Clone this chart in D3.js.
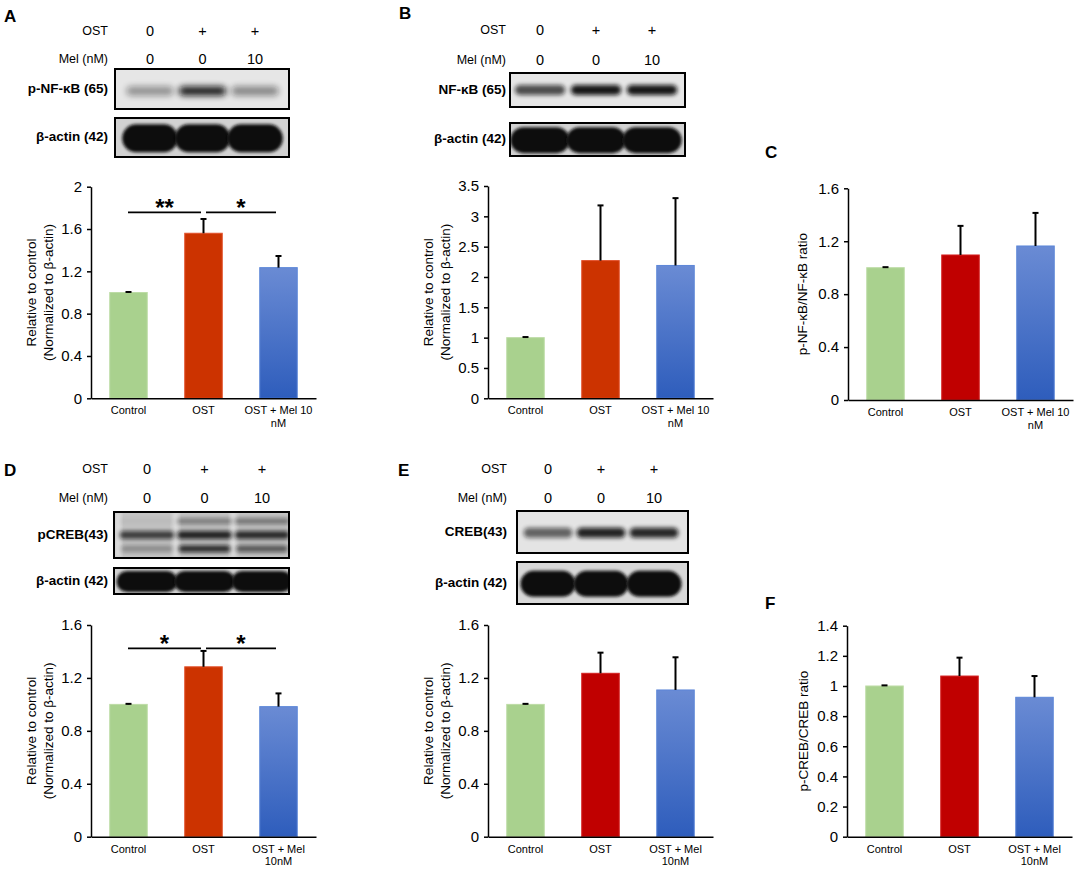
<!DOCTYPE html>
<html>
<head>
<meta charset="utf-8">
<script src="https://cdn.jsdelivr.net/npm/d3@7/dist/d3.min.js"></script>
<style>
  body { margin: 0; background: #fff; }
  svg { display: block; font-family: "Liberation Sans", Arial, sans-serif; }
</style>
</head>
<body>
<svg id="fig" width="1084" height="876"></svg>
<script>
// groups and labels
const groups = ["Control", "OST", "OST + Mel"];
const labelsTop = ["Control", "OST", "OST + Mel 10|nM"];
const labelsBottom = ["Control", "OST", "OST + Mel|10nM"];
const ostRow = ["0", "+", "+"];
const melRow = ["0", "0", "10"];

// bar values (mean) and error (SEM)
const pNFkB = [1.0, 1.56, 1.235];
const pNFkBErr = [0.005, 0.135, 0.11];
const NFkB = [1.0, 2.27, 2.19];
const NFkBErr = [0.01, 0.91, 1.11];
const ratioNFkB = [1.0, 1.096, 1.164];
const ratioNFkBErr = [0.004, 0.22, 0.25];
const pCREB = [1.0, 1.284, 0.983];
const pCREBErr = [0.004, 0.12, 0.1];
const CREB = [1.0, 1.235, 1.109];
const CREBErr = [0.004, 0.156, 0.247];
const ratioCREB = [1.0, 1.066, 0.925];
const ratioCREBErr = [0.004, 0.122, 0.141];

// axis ticks
const ticks2 = [0, 0.4, 0.8, 1.2, 1.6, 2];
const ticks35 = [0, 0.5, 1, 1.5, 2, 2.5, 3, 3.5];
const ticks16 = [0, 0.4, 0.8, 1.2, 1.6];
const ticks14 = [0, 0.2, 0.4, 0.6, 0.8, 1, 1.2, 1.4];

// significance marks
const sigA = [{ a: 0, b: 1, mark: "**" }, { a: 1, b: 2, mark: "*" }];
const sigD = [{ a: 0, b: 1, mark: "*" }, { a: 1, b: 2, mark: "*" }];

// western blot band intensities per lane (0 = none, 1 = saturated)
const pNFkBBlot = [0.4, 0.95, 0.45];
const NFkBBlot = [0.7, 0.95, 0.95];
const CREBBlot = [0.6, 0.9, 0.88];
const pCREBUpper = [0.05, 0.4, 0.45];
const pCREBMiddle = [0.75, 0.9, 0.85];
const pCREBLower = [0.3, 0.85, 0.6];
const actinBlot = [1, 1, 1];

const svg = d3.select("#fig");
const defs = svg.append("defs");

// soft edges for blot bands
[["blur1", 1.4], ["blur2", 2.2], ["blur3", 3]].forEach(([id, s]) => {
  defs.append("filter").attr("id", id)
    .attr("x", "-30%").attr("y", "-80%").attr("width", "160%").attr("height", "260%")
    .append("feGaussianBlur").attr("stdDeviation", s);
});

// blue bar gradient
const blueGrad = defs.append("linearGradient").attr("id", "blueGrad")
  .attr("x1", 0).attr("x2", 0).attr("y1", 0).attr("y2", 1);
blueGrad.append("stop").attr("offset", "0%").attr("stop-color", "#6a8bd4");
blueGrad.append("stop").attr("offset", "100%").attr("stop-color", "#2e5dbc");

const GREEN = "#a9d18e";
const ORANGE_RED = "#cc3300";
const DARK_RED = "#c00000";

// panel letters
const letters = [["A", 4, 22], ["B", 399, 19], ["C", 765, 158], ["D", 4, 476], ["E", 398, 476], ["F", 765, 609]];
svg.selectAll(".letter").data(letters).enter().append("text")
  .attr("class", "letter")
  .attr("x", d => d[1])
  .attr("y", d => d[2])
  .attr("font-size", 17).attr("font-weight", "bold")
  .text(d => d[0]);

// ---------- blot drawing ----------
function drawBlot(cfg) {
  const g = svg.append("g");
  const lane = d3.scalePoint().domain(groups).range(cfg.lanes);
  const step = lane.step();

  // header rows
  [[cfg.ostY, "OST", ostRow], [cfg.melY, "Mel (nM)", melRow]].forEach(([y, name, vals]) => {
    g.append("text").attr("x", cfg.labelRight).attr("y", y)
      .attr("text-anchor", "end").attr("dominant-baseline", "middle")
      .attr("font-size", 12.5).text(name);
    g.selectAll(null).data(vals).enter().append("text")
      .attr("x", (d, i) => lane(groups[i])).attr("y", y)
      .attr("text-anchor", "middle").attr("dominant-baseline", "middle")
      .attr("font-size", 14.5).text(d => d);
  });

  cfg.rows.forEach(row => {
    const h = row.y1 - row.y0;
    const clipId = "clip" + Math.round(cfg.box[0]) + "_" + Math.round(row.y0);
    defs.append("clipPath").attr("id", clipId).append("rect")
      .attr("x", cfg.box[0]).attr("y", row.y0)
      .attr("width", cfg.box[1] - cfg.box[0]).attr("height", h);

    g.append("rect").attr("x", cfg.box[0]).attr("y", row.y0)
      .attr("width", cfg.box[1] - cfg.box[0]).attr("height", h)
      .attr("fill", row.bg);

    const inner = g.append("g").attr("clip-path", `url(#${clipId})`);

    if (row.strips) {
      // lighter gaps between lanes
      const mids = [cfg.box[0] + 4, (lane(groups[0]) + lane(groups[1])) / 2, (lane(groups[1]) + lane(groups[2])) / 2];
      inner.selectAll(null).data(mids).enter().append("rect")
        .attr("x", d => d - 3).attr("y", row.y0).attr("width", 6).attr("height", h)
        .attr("fill", "#ffffff").attr("opacity", 0.45).attr("filter", "url(#blur2)");
    }

    row.bands.forEach(b => {
      inner.selectAll(null).data(b.values).enter().append("rect")
        .attr("x", (d, i) => lane(groups[i]) - b.w * step / 2)
        .attr("width", b.w * step)
        .attr("y", row.y0 + b.frac * h - b.th / 2)
        .attr("height", b.th)
        .attr("rx", b.th / 2).attr("ry", b.th / 2)
        .attr("fill", "#111")
        .attr("opacity", d => d)
        .attr("filter", `url(#${b.blur})`);
    });

    g.append("rect").attr("x", cfg.box[0]).attr("y", row.y0)
      .attr("width", cfg.box[1] - cfg.box[0]).attr("height", h)
      .attr("fill", "none").attr("stroke", "#000").attr("stroke-width", 2);

    g.append("text").attr("x", cfg.labelRight).attr("y", (row.y0 + row.y1) / 2)
      .attr("text-anchor", "end").attr("dominant-baseline", "middle")
      .attr("font-size", 13.5).attr("font-weight", "bold").text(row.label);
  });
}

const actinRow = (y0, y1, th) => ({
  label: "β-actin (42)", y0, y1, bg: "#d2d2d2",
  bands: [{ frac: 0.52, th, w: 1.06, values: actinBlot, blur: "blur1" }]
});

drawBlot({
  lanes: [150, 255], box: [115, 289], labelRight: 108, ostY: 32, melY: 60,
  rows: [
    { label: "p-NF-κB (65)", y0: 69, y1: 109, bg: "#e6e6e6",
      bands: [{ frac: 0.55, th: 9, w: 0.9, values: pNFkBBlot, blur: "blur3" }] },
    actinRow(118, 157, 28)
  ]
});

drawBlot({
  lanes: [540, 652], box: [510, 685], labelRight: 506, ostY: 31, melY: 61,
  rows: [
    { label: "NF-κB (65)", y0: 73, y1: 107, bg: "#e6e6e6",
      bands: [{ frac: 0.5, th: 10, w: 0.9, values: NFkBBlot, blur: "blur2" }] },
    actinRow(123, 156, 26)
  ]
});

drawBlot({
  lanes: [147, 262], box: [114, 289], labelRight: 108, ostY: 470, melY: 499,
  rows: [
    { label: "pCREB(43)", y0: 512, y1: 558, bg: "#c4c4c4", strips: true,
      bands: [
        { frac: 0.2, th: 6, w: 0.95, values: pCREBUpper, blur: "blur2" },
        { frac: 0.5, th: 8, w: 0.95, values: pCREBMiddle, blur: "blur2" },
        { frac: 0.8, th: 7, w: 0.9, values: pCREBLower, blur: "blur2" }
      ] },
    actinRow(568, 594, 21)
  ]
});

drawBlot({
  lanes: [548, 654], box: [517, 688], labelRight: 507, ostY: 470, melY: 499,
  rows: [
    { label: "CREB(43)", y0: 511, y1: 553, bg: "#e4e4e4",
      bands: [{ frac: 0.52, th: 10, w: 0.92, values: CREBBlot, blur: "blur2" }] },
    { label: "β-actin (42)", y0: 562, y1: 604, bg: "#d8d8d8",
      bands: [{ frac: 0.52, th: 26, w: 1.04, values: actinBlot, blur: "blur1" }] }
  ]
});

// ---------- bar charts ----------
function drawBars(cfg) {
  const g = svg.append("g");
  const x = d3.scaleBand().domain(groups).range([cfg.x0, cfg.x0 + 225])
    .paddingInner(0.5).paddingOuter(0.25);
  const y = d3.scaleLinear().domain([0, cfg.max]).range([cfg.yBot, cfg.yTop]);
  const fills = [GREEN, cfg.red, "url(#blueGrad)"];
  const strokes = ["#bddca6", cfg.red === ORANGE_RED ? "#e2502a" : "#d42020", "#5c86d8"];

  // bars
  g.selectAll(".bar").data(cfg.means).enter().append("rect")
    .attr("x", (d, i) => x(groups[i]))
    .attr("width", x.bandwidth())
    .attr("y", d => y(d))
    .attr("height", d => y(0) - y(d))
    .attr("fill", (d, i) => fills[i])
    .attr("stroke", (d, i) => strokes[i])
    .attr("stroke-width", 1);

  // error bars (upper only)
  const err = g.selectAll(".err").data(cfg.means).enter().append("g");
  err.append("line")
    .attr("x1", (d, i) => x(groups[i]) + x.bandwidth() / 2)
    .attr("x2", (d, i) => x(groups[i]) + x.bandwidth() / 2)
    .attr("y1", d => y(d))
    .attr("y2", (d, i) => y(d + cfg.errs[i]))
    .attr("stroke", "#000").attr("stroke-width", 2);
  err.append("line")
    .attr("x1", (d, i) => x(groups[i]) + x.bandwidth() / 2 - 3)
    .attr("x2", (d, i) => x(groups[i]) + x.bandwidth() / 2 + 3)
    .attr("y1", (d, i) => y(d + cfg.errs[i]))
    .attr("y2", (d, i) => y(d + cfg.errs[i]))
    .attr("stroke", "#000").attr("stroke-width", 2);

  // y axis
  const ya = g.append("g").attr("transform", `translate(${cfg.x0},0)`)
    .call(d3.axisLeft(y).tickValues(cfg.ticks).tickSize(4).tickSizeOuter(0).tickPadding(5)
      .tickFormat(d => String(+d.toFixed(1))));
  ya.select(".domain").attr("stroke-width", 1.5);
  ya.selectAll(".tick line").attr("stroke-width", 1.5);
  ya.selectAll(".tick text").attr("font-size", 15).attr("font-family", "inherit").attr("fill", "#000");

  // x axis
  const xa = g.append("g").attr("transform", `translate(0,${cfg.yBot})`)
    .call(d3.axisBottom(x).tickSize(0).tickSizeOuter(0).tickFormat(""));
  xa.select(".domain").attr("stroke-width", 1.5);

  // category labels
  const lab = g.selectAll(".xlab").data(cfg.labels).enter().append("text")
    .attr("text-anchor", "middle").attr("font-size", 11);
  lab.each(function (d, i) {
    d.split("|").forEach((line, k) => {
      d3.select(this).append("tspan")
        .attr("x", x(groups[i]) + x.bandwidth() / 2)
        .attr("y", cfg.yBot + 16 + k * 12.5)
        .text(line);
    });
  });

  // y title
  const title = g.append("text")
    .attr("transform", `translate(${cfg.x0 - cfg.titleOff},${(cfg.yTop + cfg.yBot) / 2}) rotate(-90)`)
    .attr("text-anchor", "middle").attr("font-size", 13.5);
  cfg.title.forEach((line, k) => {
    title.append("tspan").attr("x", 0).attr("dy", k === 0 ? (cfg.title.length === 1 ? 4.5 : -3) : 17).text(line);
  });

  // significance
  if (cfg.sig) {
    const cx = i => x(groups[i]) + x.bandwidth() / 2;
    cfg.sig.forEach(s => {
      const x1 = cx(s.a) + (s.a > 0 ? 2.5 : -0.5);
      const x2 = cx(s.b) - 2.5;
      g.append("line").attr("x1", x1).attr("x2", x2)
        .attr("y1", cfg.sigY).attr("y2", cfg.sigY)
        .attr("stroke", "#000").attr("stroke-width", 1.8);
      g.append("text").attr("x", (x1 + x2) / 2).attr("y", cfg.sigY + 3.5)
        .attr("text-anchor", "middle").attr("font-size", 24).attr("font-weight", "bold")
        .text(s.mark);
    });
  }
}

const twoLineTitle = ["Relative to control", "(Normalized to β-actin)"];

drawBars({ x0: 91, yTop: 186.7, yBot: 398.3, max: 2, ticks: ticks2, means: pNFkB, errs: pNFkBErr,
  labels: labelsTop, red: ORANGE_RED, title: twoLineTitle, titleOff: 52, sig: sigA, sigY: 212.3 });
drawBars({ x0: 488, yTop: 186, yBot: 398.3, max: 3.5, ticks: ticks35, means: NFkB, errs: NFkBErr,
  labels: labelsTop, red: ORANGE_RED, title: twoLineTitle, titleOff: 52 });
drawBars({ x0: 848, yTop: 188.3, yBot: 400, max: 1.6, ticks: ticks16, means: ratioNFkB, errs: ratioNFkBErr,
  labels: labelsTop, red: DARK_RED, title: ["p-NF-κB/NF-κB ratio"], titleOff: 46 });
drawBars({ x0: 91, yTop: 625, yBot: 836.7, max: 1.6, ticks: ticks16, means: pCREB, errs: pCREBErr,
  labels: labelsBottom, red: ORANGE_RED, title: twoLineTitle, titleOff: 52, sig: sigD, sigY: 648.3 });
drawBars({ x0: 488, yTop: 625, yBot: 836.7, max: 1.6, ticks: ticks16, means: CREB, errs: CREBErr,
  labels: labelsBottom, red: DARK_RED, title: twoLineTitle, titleOff: 52 });
drawBars({ x0: 847, yTop: 625.7, yBot: 836.7, max: 1.4, ticks: ticks14, means: ratioCREB, errs: ratioCREBErr,
  labels: labelsBottom, red: DARK_RED, title: ["p-CREB/CREB ratio"], titleOff: 44 });
</script>
</body>
</html>
